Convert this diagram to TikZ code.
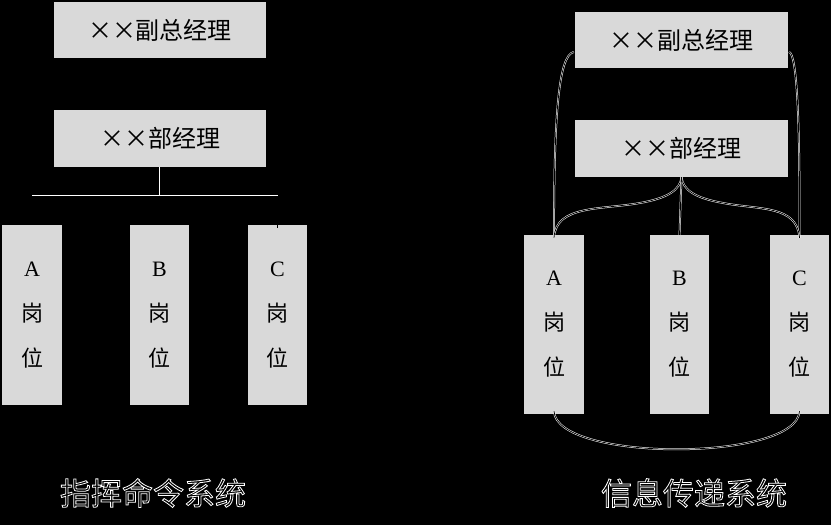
\documentclass[tikz,border=0pt]{standalone}
\usepackage{fontspec}
\setmainfont{Liberation Serif}
\newfontfamily\cjk{Noto Sans CJK SC}
\begin{document}
\begin{tikzpicture}[x=1pt,y=-1pt,
  box/.style={fill=boxgray, inner sep=0pt, font=\cjk\fontsize{24}{28}\selectfont, text=black},
  post/.style={fill=boxgray, inner sep=0pt, minimum height=180pt, align=center, text=black,
    font=\fontsize{22}{45}\selectfont},
  conn/.style={draw=white, line width=0.5pt, double=black, double distance=0.8pt},
  title/.style={text=white, font=\cjk\fontsize{31}{32}\selectfont, inner sep=0pt}]
\definecolor{boxgray}{RGB}{217,217,217}
\useasboundingbox (0,0) rectangle (831,525);
\fill[black] (0,0) rectangle (831,525);
% left side
\node[box, minimum width=212pt, minimum height=56pt] (vpL) at (160,30) {××副总经理};
\node[box, minimum width=212pt, minimum height=57pt] (mgL) at (160,138.5) {××部经理};
\node[post, minimum width=60pt] (aL) at (32,315) {A\\{\cjk 岗}\\{\cjk 位}};
\node[post, minimum width=59pt] (bL) at (159.5,315) {B\\{\cjk 岗}\\{\cjk 位}};
\node[post, minimum width=59pt] (cL) at (277.5,315) {C\\{\cjk 岗}\\{\cjk 位}};
\coordinate (barS) at (32,196);
\coordinate (barE) at (cL.north |- barS);
\coordinate (cTop) at ([yshift=-3pt]cL.north);
\draw[conn] (mgL.south) -- (mgL.south |- barS);
\draw[conn] (barS) -- (barE) -- (cTop);
% right side
\node[box, minimum width=213pt, minimum height=56pt] (vpR) at (681.5,40) {××副总经理};
\node[box, minimum width=213pt, minimum height=57pt] (mgR) at (681.5,148.5) {××部经理};
\node[post, minimum width=60pt, minimum height=179pt] (aR) at (554,324.5) {A\\{\cjk 岗}\\{\cjk 位}};
\node[post, minimum width=59pt, minimum height=179pt] (bR) at (679.5,324.5) {B\\{\cjk 岗}\\{\cjk 位}};
\node[post, minimum width=59pt, minimum height=179pt] (cR) at (799.5,324.5) {C\\{\cjk 岗}\\{\cjk 位}};
\coordinate (aRt) at ([yshift=-3pt]aR.north);
\coordinate (cRt) at ([yshift=-3pt]cR.north);
\coordinate (aRb) at ([yshift=3pt]aR.south);
\coordinate (cRb) at ([yshift=3pt]cR.south);
\coordinate (vpRl) at ([yshift=-12pt]vpR.west);
\coordinate (vpRr) at ([yshift=-12pt]vpR.east);
\draw[conn] (aRt) .. controls (554,120) and (558,55) .. ([xshift=-1pt]vpRl);
\draw[conn] (cRt) .. controls (800,120) and (797,55) .. ([xshift=1pt]vpRr);
\draw[conn] (aRt) .. controls (556,205) and (600,210) .. (640,203) .. controls (668,198) and (680,190) .. (mgR.south);
\draw[conn] (cRt) .. controls (797,205) and (760,210) .. (723,203) .. controls (695,198) and (683,190) .. (mgR.south);
\draw[conn] (mgR.south) -- (bR.north);
\draw[conn] (aRb) .. controls (556,462) and (797,462) .. (cRb);
% titles
\node[title] (tL) at (153,493) {\special{pdf:code 1 Tr 0.8 w}指挥命令系统\special{pdf:code 0 Tr 0.4 w}};
\node[title] (tR) at (694,493) {\special{pdf:code 1 Tr 0.8 w}信息传递系统\special{pdf:code 0 Tr 0.4 w}};
\end{tikzpicture}
\end{document}
